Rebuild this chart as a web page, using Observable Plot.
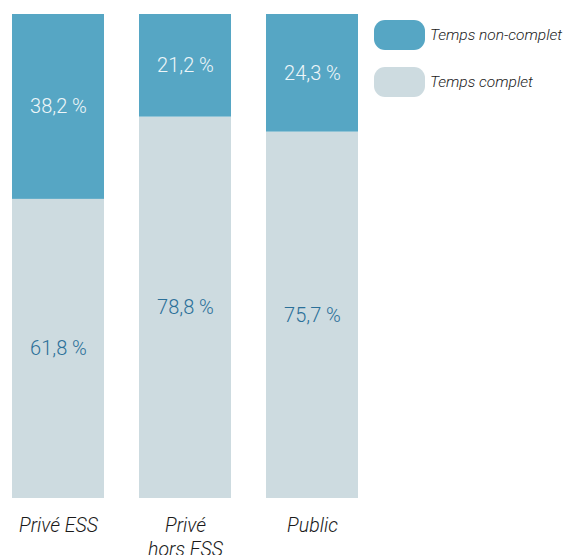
<!DOCTYPE html>
<html><head><meta charset="utf-8">
<script src="https://cdn.jsdelivr.net/npm/d3@7"></script>
<script src="https://cdn.jsdelivr.net/npm/@observablehq/plot@0.6"></script>
<style>
html,body{margin:0;padding:0;background:#fff;}
#wrap{position:relative;width:571px;height:555px;overflow:hidden;font-family:Roboto,sans-serif;}
.leg{position:absolute;left:374px;display:flex;align-items:center;font-style:italic;font-weight:300;font-size:15.5px;color:#222;font-family:Roboto,sans-serif;}
.sw{width:51px;height:30px;border-radius:11px;margin-right:5px;}
</style></head>
<body><div id="wrap"></div>
<script>
const categories = ["Privé ESS", "Privé\nhors ESS", "Public"];
const types = ["Temps complet", "Temps non-complet"];
const complet = [61.8, 78.8, 75.7];
const nonComplet = [38.2, 21.2, 24.3];
const barColors = {"Temps complet": "#cddbe0", "Temps non-complet": "#56a6c4"};
const textColors = {"Temps complet": "#2b7099", "Temps non-complet": "#eef6f9"};

const data = [];
categories.forEach((c, i) => {
  data.push({category: c, type: types[0], value: complet[i]});
  data.push({category: c, type: types[1], value: nonComplet[i]});
});
const fmt = v => v.toFixed(1).replace(".", ",") + " %";

const chart = Plot.plot({
  width: 571, height: 555,
  marginLeft: 12, marginRight: 213, marginTop: 14, marginBottom: 57,
  style: {fontFamily: "Roboto, sans-serif", background: "#fff"},
  x: {domain: categories, paddingInner: 35/127, paddingOuter: 0, label: null},
  y: {domain: [0, 100], axis: null},
  marks: [
    Plot.barY(data, Plot.stackY({x: "category", y: "value", fill: d => barColors[d.type], order: null})),
    Plot.text(data, Plot.stackY({x: "category", y: "value", text: d => fmt(d.value), fill: d => textColors[d.type], fontSize: 20, fontWeight: 300, order: null})),
    Plot.axisX({tickSize: 0, tickPadding: 16, fontSize: 19.5, fontStyle: "italic", fontWeight: 300, fill: "#1a1a1a", lineHeight: 1.25, textAnchor: "middle"})
  ]
});
const wrap = document.getElementById("wrap");
wrap.appendChild(chart);
[["Temps non-complet", 20], ["Temps complet", 67]].forEach(([t, top]) => {
  const d = document.createElement("div");
  d.className = "leg";
  d.style.top = top + "px";
  d.innerHTML = `<div class="sw" style="background:${barColors[t]}"></div><span>${t}</span>`;
  wrap.appendChild(d);
});
</script></body></html>
